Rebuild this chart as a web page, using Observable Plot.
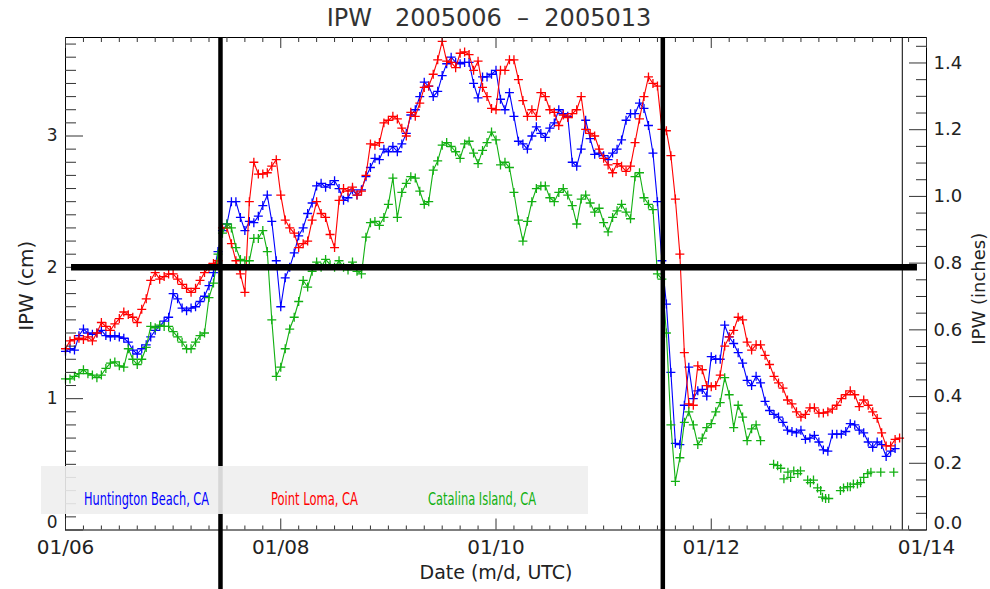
<!DOCTYPE html>
<html>
<head>
<meta charset="utf-8">
<script src="https://cdn.jsdelivr.net/npm/d3@7"></script>
<script src="https://cdn.jsdelivr.net/npm/@observablehq/plot@0.6"></script>
<style>
  body { margin: 0; background: #fff; }
  #wrap { position: relative; width: 990px; height: 589px; font-family: "DejaVu Sans", sans-serif; }
  #chart { position: absolute; left: 0; top: 0; }
  #title { position: absolute; left: 0; top: 4px; width: 978px; text-align: center; font-size: 24px; color: #333; white-space: pre; }
  #legend { position: absolute; left: 41px; top: 466px; width: 547px; height: 48px; overflow: visible; }
</style>
</head>
<body>
<div id="wrap">
  <div id="chart"></div>
  <div id="title"></div>
  <svg id="legend"></svg>
</div>
<script>
// ---------------- data ----------------
const titleText = "IPW   2005006  \u2013  2005013";
const startDay = 6;          // 01/06 00 UTC
const stepHours = 1;         // hourly readings

const seriesNames = ["Huntington Beach, CA", "Point Loma, CA", "Catalina Island, CA"];
const seriesColors = ["#0000ff", "#ff0000", "#12b012"];

// IPW (cm), hourly from 01/06 00 UTC
const huntingtonBeach = [
 1.36,1.38,1.37,1.48,1.53,1.50,1.49,1.50,1.52,1.48,
 1.47,1.48,1.47,1.46,1.43,1.37,1.34,1.38,1.41,1.47,
 1.52,1.55,1.59,1.62,1.80,1.76,1.69,1.67,1.69,1.70,
 1.74,1.78,1.86,1.96,2.12,2.28,2.33,2.50,2.50,2.38,
 2.28,2.35,2.34,2.39,2.47,2.55,2.35,2.05,1.70,1.92,
 2.00,2.11,2.24,2.30,2.41,2.49,2.62,2.64,2.61,2.63,
 2.66,2.60,2.51,2.53,2.59,2.55,2.59,2.69,2.76,2.83,
 2.82,2.90,2.88,2.92,2.88,2.94,3.02,3.16,3.20,3.30,
 3.41,3.38,3.30,3.34,3.46,3.55,3.60,3.56,3.55,3.56,
 3.56,3.40,3.29,3.45,3.45,3.47,3.50,3.28,3.20,3.33,
 3.15,2.96,2.94,2.90,3.00,3.07,3.02,2.99,3.06,3.10,
 3.20,3.17,3.15,2.80,2.77,2.90,3.12,2.98,2.86,2.87,
 2.85,2.82,2.87,2.90,2.97,3.12,3.17,3.17,3.25,3.21,
 3.08,2.87,2.50,2.05,1.72,1.20,0.66,0.65,0.95,1.24,
 1.00,1.06,1.07,1.02,1.32,1.30,1.30,1.56,1.47,1.42,
 1.35,1.27,1.14,1.10,1.17,1.12,0.98,0.91,0.88,0.86,
 0.82,0.76,0.75,0.74,0.76,0.69,0.70,0.72,0.67,0.61,
 0.60,0.73,0.73,0.73,0.75,0.81,0.80,0.76,0.74,0.67,
 0.63,0.67,0.65,0.56,0.60,0.62
];

const pointLoma = [
 1.38,1.44,1.45,1.46,1.45,1.47,1.44,1.50,1.58,1.55,
 1.52,1.57,1.61,1.66,1.64,1.62,1.58,1.68,1.76,1.90,
 1.96,1.91,1.93,1.95,1.95,1.91,1.87,1.84,1.81,1.84,
 1.90,1.96,2.00,2.03,2.05,2.30,2.30,2.18,2.05,1.95,
 1.81,2.50,2.80,2.71,2.71,2.72,2.77,2.82,2.55,2.36,
 2.30,2.26,2.15,2.18,2.20,2.36,2.50,2.41,2.38,2.25,
 2.15,2.51,2.60,2.58,2.61,2.55,2.58,2.70,2.94,2.93,
 2.95,3.10,3.12,3.15,3.13,3.06,3.00,3.18,3.15,3.25,
 3.37,3.38,3.47,3.58,3.72,3.57,3.56,3.52,3.63,3.64,
 3.62,3.50,3.57,3.37,3.30,3.21,3.20,3.50,3.50,3.58,
 3.58,3.43,3.27,3.15,3.20,3.15,3.33,3.30,3.20,3.18,
 3.08,3.16,3.14,3.17,3.20,3.30,3.05,3.02,3.00,2.90,
 2.83,2.78,2.72,2.79,2.77,2.73,2.77,2.95,3.13,3.30,
 3.45,3.40,3.38,3.05,3.04,2.85,2.52,2.10,1.35,0.96,
 0.95,1.25,1.22,1.10,1.09,1.10,1.18,1.40,1.47,1.52,
 1.62,1.60,1.43,1.37,1.41,1.41,1.33,1.26,1.17,1.12,
 1.08,0.99,0.96,0.90,0.86,0.88,0.93,0.93,0.89,0.89,
 0.90,0.92,0.95,1.00,1.03,1.06,1.03,0.94,0.99,0.95,
 0.90,0.85,0.74,0.64,0.64,0.69,0.70
];

const catalinaIsland = [
 1.15,1.15,1.17,1.19,1.22,1.19,1.18,1.16,1.18,1.23,
 1.27,1.28,1.25,1.24,1.38,1.30,1.26,1.30,1.39,1.55,
 1.54,1.56,1.55,1.55,1.51,1.47,1.43,1.38,1.38,1.43,
 1.48,1.50,1.77,1.88,2.10,2.26,2.33,2.30,2.15,2.06,
 2.05,2.05,2.22,2.22,2.28,2.12,1.60,1.17,1.24,1.38,
 1.53,1.62,1.74,1.90,1.85,1.97,2.04,2.00,2.06,2.02,
 2.00,2.05,2.00,1.98,2.04,1.97,1.95,2.23,2.34,2.35,
 2.32,2.38,2.48,2.68,2.38,2.57,2.64,2.69,2.68,2.58,
 2.48,2.50,2.74,2.81,2.93,2.95,2.92,2.88,2.83,2.94,
 2.96,2.87,2.79,2.89,2.95,3.03,2.97,2.78,2.80,2.76,
 2.57,2.36,2.20,2.35,2.50,2.60,2.62,2.62,2.53,2.50,
 2.57,2.60,2.55,2.47,2.33,2.52,2.55,2.49,2.42,2.45,
 2.34,2.27,2.38,2.43,2.48,2.42,2.37,2.69,2.72,2.53,
 2.48,2.44,1.95,1.91,1.50,0.80,0.37,0.55,0.82,0.90,
 0.80,0.65,0.70,0.78,0.81,0.90,0.97,1.16,1.03,0.78,
 0.95,0.86,0.68,0.77,0.80,0.68
];
// isolated (unconnected) Catalina readings late in the period: hours from 01/06 00 UTC
const catalinaLateHours  = [157.9,158.8,159.5,160.2,161.1,161.7,162.4,163.3,163.9,165.5,166.1,166.8,167.7,168.4,168.8,169.5,170.2,172.8,173.5,174.4,175.0,175.7,176.6,177.3,178.0,178.9,179.6,181.8,184.7];
const catalinaLateValues = [0.50,0.49,0.47,0.39,0.44,0.40,0.45,0.43,0.45,0.38,0.36,0.38,0.32,0.30,0.25,0.24,0.24,0.30,0.32,0.33,0.33,0.35,0.35,0.36,0.40,0.43,0.44,0.44,0.44];

const xTickDays = [6, 8, 10, 12, 14];
const xTickLabels = ["01/06", "01/08", "01/10", "01/12", "01/14"];
const cmTicks = [0, 1, 2, 3];
const inchTicks = [0.0, 0.2, 0.4, 0.6, 0.8, 1.0, 1.2, 1.4];
const eventDays = [7.44, 11.55];      // vertical event markers
const thresholdCm = [2];              // horizontal reference at 2 cm
const thresholdSpan = [6.056, 13.916];
const endMarkerDay = [13.775];
const cmPerInch = 2.54;

// ---------------- layout ----------------
const W = 990, H = 589;
const mL = 65, mR = 64, mT = 37, mB = 59.5;
const plotW = W - mL - mR, plotH = H - mT - mB;
const yMax = 3.75;
const yBelow = -mB * yMax / plotH;   // bottom of the svg in cm units

document.getElementById("title").textContent = titleText;

const toRecords = (vals) => vals.map((v, i) => ({day: startDay + i * stepHours / 24, v}));
const hb = toRecords(huntingtonBeach);
const pl = toRecords(pointLoma);
const ci = toRecords(catalinaIsland);
const ciLate = catalinaLateHours.map((h, i) => ({day: startDay + h / 24, v: catalinaLateValues[i]}));

const minorCm = d3.range(1, 38).map(i => i / 10).filter(v => Math.abs(v - Math.round(v)) > 1e-6);
const minorInch = d3.range(1, 30).map(i => i / 20).filter(v => Math.abs(v * 5 - Math.round(v * 5)) > 1e-6);
const minorDays = d3.range(1, 48).map(i => startDay + i / 6).filter(d => Math.abs((d - startDay) / 2 - Math.round((d - startDay) / 2)) > 1e-6);

const axisColor = "#333";
const seriesMarks = (recs, color, connect) => [
  ...(connect ? [Plot.line(recs, {x: "day", y: "v", stroke: color, strokeWidth: 1.1})] : []),
  Plot.dot(recs, {x: "day", y: "v", symbol: "plus", r: 3, stroke: color, strokeWidth: 1.3})
];

const chart = Plot.plot({
  width: W, height: H,
  marginLeft: mL, marginRight: mR, marginTop: mT, marginBottom: mB,
  style: {fontFamily: "DejaVu Sans, sans-serif", color: "#222", background: "transparent", overflow: "visible"},
  x: {domain: [6, 14], axis: null},
  y: {domain: [0, yMax], axis: null},
  marks: [
    // data
    ...seriesMarks(hb, seriesColors[0], true),
    ...seriesMarks(pl, seriesColors[1], true),
    ...seriesMarks(ci, seriesColors[2], true),
    ...seriesMarks(ciLate, seriesColors[2], false),
    // frame and ticks
    Plot.frame({stroke: "#000", strokeWidth: 1}),
    Plot.tickY(minorCm, {y: d => d, insetRight: plotW - 11, stroke: axisColor}),
    Plot.tickY(cmTicks, {y: d => d, insetRight: plotW - 18, stroke: axisColor}),
    Plot.tickY(minorInch, {y: d => d * cmPerInch, insetLeft: plotW - 10, stroke: axisColor}),
    Plot.tickY(inchTicks, {y: d => d * cmPerInch, insetLeft: plotW - 17, stroke: axisColor}),
    Plot.tickX(minorDays, {x: d => d, insetTop: plotH - 4, stroke: axisColor}),
    Plot.tickX(xTickDays, {x: d => d, insetTop: plotH - 11, stroke: axisColor}),
    Plot.tickX(minorDays, {x: d => d, insetBottom: plotH - 5, stroke: axisColor}),
    Plot.tickX(xTickDays, {x: d => d, insetBottom: plotH - 11, stroke: axisColor}),
    // tick labels (the zero labels sit a little above the bottom axis, as in the original)
    Plot.text(cmTicks.filter(d => d > 0), {y: d => d, frameAnchor: "left", dx: -8, textAnchor: "end", text: d => String(d), fontSize: 17, fill: "#222"}),
    Plot.text(cmTicks.filter(d => d === 0), {y: d => d, frameAnchor: "left", dx: -8, dy: -7, textAnchor: "end", text: d => String(d), fontSize: 17, fill: "#222"}),
    Plot.text(inchTicks.filter(d => d > 0), {y: d => d * cmPerInch, frameAnchor: "right", dx: 7, textAnchor: "start", text: d => d.toFixed(1), fontSize: 18, fill: "#222"}),
    Plot.text(inchTicks.filter(d => d === 0), {y: d => d * cmPerInch, frameAnchor: "right", dx: 7, dy: -7, textAnchor: "start", text: d => d.toFixed(1), fontSize: 18, fill: "#222"}),
    Plot.text(xTickDays, {x: d => d, frameAnchor: "bottom", dy: 24, text: (d, i) => xTickLabels[i], fontSize: 20, fill: "#222", letterSpacing: 1}),
    // axis titles
    Plot.text(["Date (m/d, UTC)"], {frameAnchor: "bottom", dy: 49, text: d => d, fontSize: 19, fill: "#222", letterSpacing: 1}),
    Plot.text(["IPW (cm)"], {frameAnchor: "left", dx: -39, dy: 2, rotate: -90, textAnchor: "middle", text: d => d, fontSize: 20, fill: "#222"}),
    Plot.text(["IPW (inches)"], {frameAnchor: "right", dx: 53, dy: 5, rotate: -90, textAnchor: "middle", text: d => d, fontSize: 18, fill: "#222"}),
    // reference lines
    Plot.ruleX(endMarkerDay, {x: d => d, stroke: "#000", strokeWidth: 1}),
    Plot.ruleY(thresholdCm, {y: d => d, x1: () => thresholdSpan[0], x2: () => thresholdSpan[1], stroke: "#000", strokeWidth: 6.5}),
    Plot.ruleX(eventDays, {x: d => d, y1: () => yMax, y2: () => yBelow, stroke: "#000", strokeWidth: 4.5})
  ]
});
document.getElementById("chart").appendChild(chart);

// legend (drawn over the lower-left of the plot, as in the original)
const legendX = [43, 230, 387];
const legendLen = [125, 87, 108];
const lg = d3.select("#legend");
lg.append("rect").attr("width", 547).attr("height", 48).attr("fill", "#eeeeee").attr("opacity", 0.9);
lg.selectAll("text.item").data(seriesNames).join("text")
  .attr("class", "item")
  .attr("x", (d, i) => legendX[i])
  .attr("y", 39)
  .attr("textLength", (d, i) => legendLen[i])
  .attr("lengthAdjust", "spacingAndGlyphs")
  .attr("fill", (d, i) => seriesColors[i])
  .style("font-family", "'DejaVu Sans Condensed', 'DejaVu Sans', sans-serif")
  .style("font-size", "18px")
  .text(d => d);
</script>
</body>
</html>
